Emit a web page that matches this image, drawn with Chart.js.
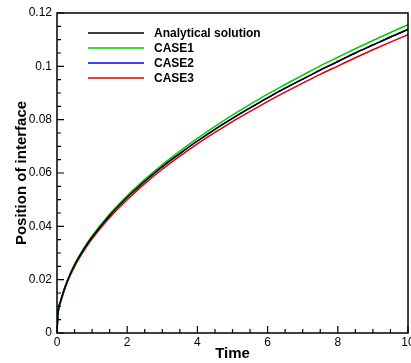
<!DOCTYPE html>
<html>
<head>
<meta charset="utf-8">
<script src="https://cdn.jsdelivr.net/npm/chart.js@4.4.1/dist/chart.umd.min.js"></script>
<style>
  html, body { margin: 0; padding: 0; background: #fff; }
  canvas { display: block; }
</style>
</head>
<body>
<canvas id="c" width="411" height="363"></canvas>
<script>
// time samples and interface positions
const times      = [0, 0.02, 0.05, 0.1, 0.2, 0.3, 0.5, 0.75, 1, 1.5, 2, 2.5, 3, 3.5, 4, 4.5, 5, 5.5, 6, 6.5, 7, 7.5, 8, 8.5, 9, 9.5, 10];
const analytical = [0, 0.0058, 0.0095, 0.0118, 0.0161, 0.0197, 0.0255, 0.0312, 0.0360, 0.0441, 0.0509, 0.0569, 0.0624, 0.0673, 0.0720, 0.0764, 0.0805, 0.0844, 0.0882, 0.0918, 0.0952, 0.0986, 0.1018, 0.1050, 0.1080, 0.1110, 0.1138];
const case1      = [0, 0.0059, 0.0096, 0.0119, 0.0163, 0.0199, 0.0258, 0.0315, 0.0364, 0.0446, 0.0515, 0.0576, 0.0632, 0.0682, 0.0730, 0.0775, 0.0817, 0.0857, 0.0896, 0.0932, 0.0967, 0.1002, 0.1034, 0.1066, 0.1097, 0.1127, 0.1156];
const case2      = [0, 0.0058, 0.0095, 0.0118, 0.0161, 0.0197, 0.0255, 0.0312, 0.0360, 0.0441, 0.0509, 0.0569, 0.0624, 0.0673, 0.0720, 0.0764, 0.0805, 0.0844, 0.0882, 0.0918, 0.0952, 0.0986, 0.1018, 0.1050, 0.1080, 0.1110, 0.1138];
const case3      = [0, 0.0055, 0.0092, 0.0114, 0.0156, 0.0192, 0.0249, 0.0305, 0.0353, 0.0433, 0.0500, 0.0560, 0.0614, 0.0663, 0.0709, 0.0752, 0.0793, 0.0831, 0.0868, 0.0903, 0.0937, 0.0970, 0.1001, 0.1032, 0.1062, 0.1091, 0.1119];

const xTicks = [0, 2, 4, 6, 8, 10];
const yTicks = [0, 0.02, 0.04, 0.06, 0.08, 0.1, 0.12];

const FONT = '"Liberation Sans", Arial, sans-serif';

const pts = (ys) => times.map((t, i) => ({ x: t, y: ys[i] }));

const series = [
    { label: 'Analytical solution', data: analytical, color: '#000000' },
    { label: 'CASE1', data: case1, color: '#00cc00' },
    { label: 'CASE2', data: case2, color: '#0000ff' },
    { label: 'CASE3', data: case3, color: '#dd0000' }
];

// frame, inward ticks and the legend inside the plot
const framePlugin = {
    id: 'frame',
    afterDatasetsDraw(chart) {
        const ctx = chart.ctx;
        const a = chart.chartArea;
        const xs = chart.scales.x, ys = chart.scales.y;
        ctx.save();
        ctx.strokeStyle = '#000';
        ctx.lineWidth = 1.5;
        ctx.strokeRect(a.left, a.top, a.right - a.left, a.bottom - a.top);

        ctx.lineWidth = 1.2;
        ctx.beginPath();
        for (let v = 0; v <= 10.001; v += 0.5) {
            const px = xs.getPixelForValue(v);
            const len = xTicks.some(t => Math.abs(t - v) < 1e-6) ? 7 : 4;
            ctx.moveTo(px, a.bottom);
            ctx.lineTo(px, a.bottom - len);
        }
        for (let k = 0; k <= 24; k++) {
            const v = k * 0.005;
            const py = ys.getPixelForValue(v);
            const len = (k % 4 === 0) ? 7 : 4;
            ctx.moveTo(a.left, py);
            ctx.lineTo(a.left + len, py);
        }
        ctx.stroke();

        // legend
        ctx.font = 'bold 12px ' + FONT;
        ctx.textBaseline = 'middle';
        ctx.fillStyle = '#000';
        chart.data.datasets.forEach((ds, i) => {
            const y = 33 + i * 15;
            ctx.strokeStyle = ds.borderColor;
            ctx.lineWidth = 1.6;
            ctx.beginPath();
            ctx.moveTo(88, y);
            ctx.lineTo(144, y);
            ctx.stroke();
            ctx.fillText(ds.label, 154, y + 0.5);
        });
        ctx.restore();
    }
};

new Chart(document.getElementById('c'), {
    type: 'line',
    data: {
        datasets: series.map(s => ({
            label: s.label,
            data: pts(s.data),
            borderColor: s.color,
            backgroundColor: s.color,
            borderWidth: 1.5,
            pointRadius: 0,
            cubicInterpolationMode: 'monotone',
            fill: false
        }))
    },
    options: {
        responsive: false,
        animation: false,
        layout: { padding: { top: 13, right: 3, left: 0, bottom: 0 } },
        plugins: {
            legend: { display: false },
            tooltip: { enabled: false }
        },
        scales: {
            x: {
                type: 'linear',
                min: 0,
                max: 10,
                afterBuildTicks: (s) => { s.ticks = xTicks.map(v => ({ value: v })); },
                afterFit: (s) => { s.height = 30; s.paddingLeft = 0; s.paddingRight = 0; },
                grid: { display: false, drawTicks: false, tickLength: 0 },
                border: { display: false },
                ticks: {
                    color: '#000',
                    font: { family: FONT, size: 12 },
                    padding: 2,
                    maxRotation: 0,
                    callback: (v) => String(v)
                },
                title: {
                    display: true,
                    text: 'Time',
                    color: '#000',
                    font: { family: FONT, size: 15, weight: 'bold' },
                    padding: { top: 0, bottom: 0 }
                }
            },
            y: {
                min: 0,
                max: 0.12,
                afterBuildTicks: (s) => { s.ticks = yTicks.map(v => ({ value: v })); },
                afterFit: (s) => { s.width = 57; s.paddingTop = 0; s.paddingBottom = 0; },
                grid: { display: false, drawTicks: false, tickLength: 0 },
                border: { display: false },
                ticks: {
                    color: '#000',
                    font: { family: FONT, size: 12 },
                    padding: 5,
                    callback: (v) => String(+v.toFixed(2))
                },
                title: {
                    display: true,
                    text: 'Position of interface',
                    color: '#000',
                    font: { family: FONT, size: 15, weight: 'bold' },
                    padding: { top: 13, bottom: 2 }
                }
            }
        }
    },
    plugins: [framePlugin]
});
</script>
</body>
</html>
